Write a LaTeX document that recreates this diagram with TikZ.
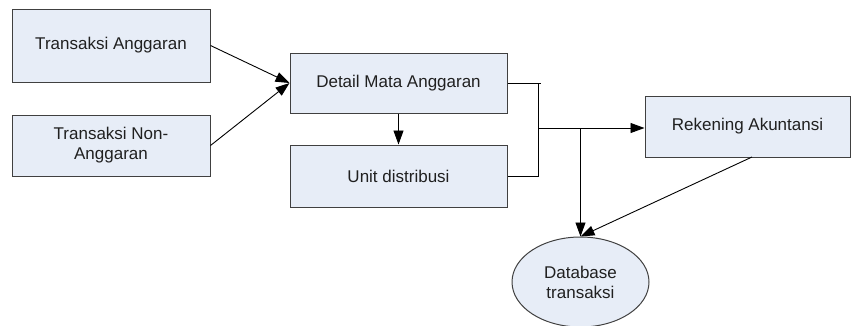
\documentclass[tikz,border=0pt]{standalone}
\usepackage{fontspec}
\setmainfont{Liberation Sans}
\usetikzlibrary{arrows.meta,shapes.geometric}
\definecolor{boxfill}{HTML}{E7EDF7}
\definecolor{boxline}{HTML}{404040}
\definecolor{txt}{HTML}{202020}
\tikzset{
  procbox/.style={draw=boxline, line width=1pt, fill=boxfill, inner sep=0pt, align=center, text=txt, font=\fontsize{17}{20}\selectfont},
  dbnode/.style={draw=boxline, line width=1pt, fill=boxfill, ellipse, inner sep=0pt, align=center, text=txt, font=\fontsize{17}{20}\selectfont},
  conn/.style={draw=black, line width=0.9pt},
  arr/.style={conn, -{Triangle[length=14pt,width=10pt]}}
}
\begin{document}
\begin{tikzpicture}[x=1pt,y=1pt]
\useasboundingbox (0,0) rectangle (851,-325);
\node[procbox, minimum width=198pt, minimum height=73pt] (ta) at (111,-45.5) {Transaksi Anggaran};
\node[procbox, minimum width=198pt, minimum height=61pt] (tn) at (111,-145.5) {Transaksi Non-\\Anggaran};
\node[procbox, minimum width=217pt, minimum height=60pt] (dm) at (398.5,-83) {Detail Mata Anggaran};
\node[procbox, minimum width=217pt, minimum height=62pt] (ud) at (398.5,-176) {Unit distribusi};
\node[procbox, minimum width=205pt, minimum height=61pt] (ra) at (747.5,-126.5) {Rekening Akuntansi};
\node[dbnode, minimum width=137pt, minimum height=90pt] (db) at (580.5,-282) {Database\\transaksi};
\coordinate (ja) at (538,-83);
\coordinate (jt) at (541,-83);
\coordinate (jb) at (538,-176);
\coordinate (jc) at (538,-128);
\coordinate (jd) at (580.5,-128);
\coordinate (rs) at (752,-157);
\draw[arr] (ta.east) -- (dm.west);
\draw[arr] (tn.east) -- (dm.west);
\draw[arr] (dm.south) -- (ud.north);
\draw[conn] (dm.east) -- (jt);
\draw[conn] (ja) -- (jb) -- (ud.east);
\draw[arr] (jc) -- (ra.west |- jc);
\draw[arr] (jd) -- (db.north);
\draw[arr] (rs) -- (db.north);
\end{tikzpicture}
\end{document}
